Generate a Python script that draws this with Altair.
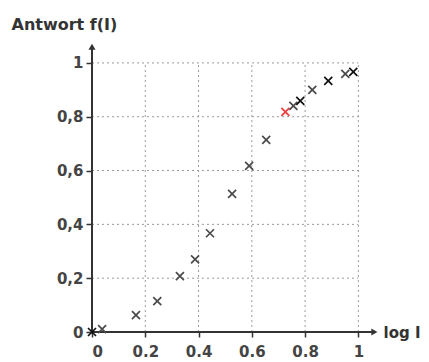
import altair as alt
import pandas as pd

# data
log_i = [0.0, 0.038, 0.165, 0.245, 0.33, 0.387, 0.443, 0.526, 0.59, 0.654,
         0.726, 0.756, 0.782, 0.827, 0.887, 0.951, 0.981]
antwort = [0.0, 0.011, 0.063, 0.115, 0.208, 0.27, 0.367, 0.513, 0.617, 0.714,
           0.818, 0.84, 0.859, 0.9, 0.933, 0.959, 0.967]
gruppe = ["b", "a", "a", "a", "a", "a", "a", "a", "a", "a",
          "rot", "a", "b", "a", "b", "a", "b"]
tick_values = [0, 0.2, 0.4, 0.6, 0.8, 1.0]
grid_values = [0.2, 0.4, 0.6, 0.8, 1.0]
axis_end_x = 1.06
axis_end_y = 1.06

FONT = "DejaVu Sans"
AX = "#333333"
LAB = "#444444"

pts = pd.DataFrame({"x": log_i, "y": antwort, "g": gruppe})
grid = pd.DataFrame({"v": grid_values, "zero": 0.0, "one": 1.0})

xs = alt.Scale(domain=[0, 1.1], nice=False, zero=False)
ys = alt.Scale(domain=[0, 1.1], nice=False, zero=False)

xaxis = alt.Axis(
    values=tick_values, title="log I", domain=False, grid=False,
    labelExpr="datum.value == 0 ? '0' : datum.value == 1 ? '1' : format(datum.value, '.1f')",
    labelFont=FONT, labelFontSize=15, labelFontWeight="bold", labelColor=LAB, labelPadding=7,
    tickColor=AX, tickSize=5, tickWidth=1.5,
    titleFont=FONT, titleFontSize=15, titleFontWeight="bold", titleColor=AX,
    titleAngle=0, titleAlign="left", titleBaseline="middle", titleX=291, titleY=0)
yaxis = alt.Axis(
    values=tick_values, title="Antwort f(I)", domain=False, grid=False,
    labelExpr="datum.value == 0 ? '0' : datum.value == 1 ? '1' : replace(format(datum.value, '.1f'), '.', ',')",
    labelFont=FONT, labelFontSize=15, labelFontWeight="bold", labelColor=LAB, labelPadding=3,
    tickColor=AX, tickSize=6, tickWidth=1.5,
    titleFont=FONT, titleFontSize=16, titleFontWeight="bold", titleColor=AX,
    titleAngle=0, titleAlign="left", titleBaseline="middle", titleX=-81, titleY=-12)


def X(f):
    return alt.X(f, scale=xs, axis=xaxis)


def Y(f):
    return alt.Y(f, scale=ys, axis=yaxis)


vgrid = alt.Chart(grid).mark_rule(color="#9a9a9a", strokeDash=[2, 3], strokeWidth=1).encode(
    x=X("v:Q"), y=Y("zero:Q"), y2="one:Q")
hgrid = alt.Chart(grid).mark_rule(color="#9a9a9a", strokeDash=[2, 3], strokeWidth=1).encode(
    y=Y("v:Q"), x=X("zero:Q"), x2="one:Q")

axes_df = pd.DataFrame({"x0": [0.0], "y0": [0.0], "xe": [axis_end_x], "ye": [axis_end_y]})
xaxis_line = alt.Chart(axes_df).mark_rule(color=AX, strokeWidth=2).encode(
    x=X("x0:Q"), x2="xe:Q", y=Y("y0:Q"))
yaxis_line = alt.Chart(axes_df).mark_rule(color=AX, strokeWidth=2).encode(
    y=Y("y0:Q"), y2="ye:Q", x=X("x0:Q"))
xarrow = alt.Chart(axes_df).mark_point(shape="triangle-right", filled=True, color=AX, size=50, opacity=1).encode(
    x=X("xe:Q"), y=Y("y0:Q"))
yarrow = alt.Chart(axes_df).mark_point(shape="triangle-up", filled=True, color=AX, size=50, opacity=1).encode(
    x=X("x0:Q"), y=Y("ye:Q"))

xshape = "M-1,-1L1,1M1,-1L-1,1"
points = alt.Chart(pts).mark_point(shape=xshape, size=64, strokeWidth=1.7, opacity=1, filled=False).encode(
    x=X("x:Q"), y=Y("y:Q"),
    color=alt.Color("g:N", scale=alt.Scale(domain=["a", "b", "rot"], range=["#4a4a4a", "#111111", "#f03c3c"]), legend=None),
)

chart = alt.layer(vgrid, hgrid, xaxis_line, yaxis_line, xarrow, yarrow, points).properties(
    width=293, height=296, autosize="none", background="white",
    padding={"left": 84, "top": 28, "right": 36, "bottom": 30},
).configure_view(stroke=None)

chart.save("out.html", embed_options={"renderer": "svg", "actions": False})
